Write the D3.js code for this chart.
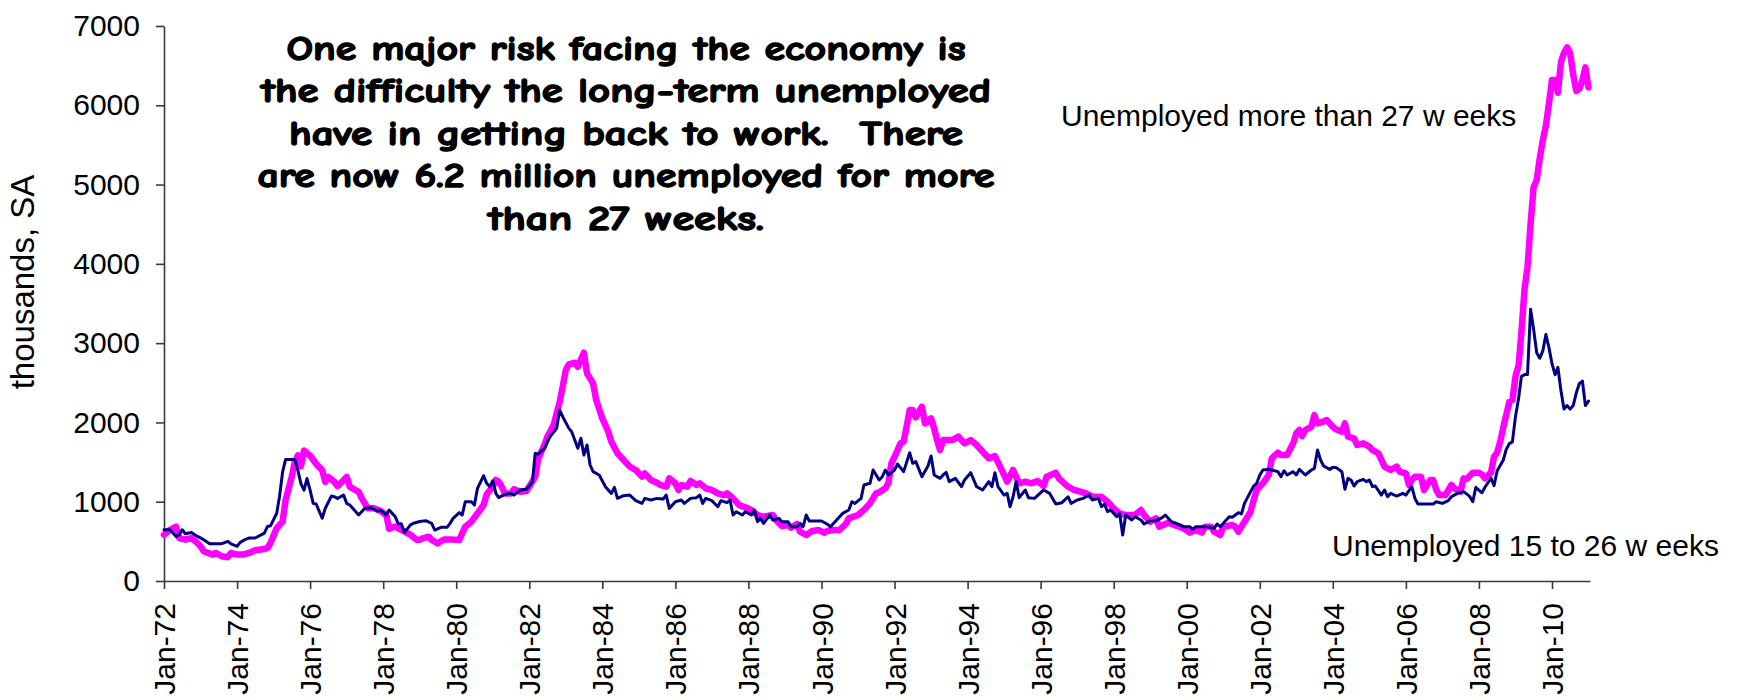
<!DOCTYPE html>
<html>
<head>
<meta charset="utf-8">
<script src="https://cdn.jsdelivr.net/npm/d3@7"></script>
<style>
  html, body { margin: 0; padding: 0; background: #ffffff; }
  svg { display: block; }
  text { font-family: "Liberation Sans", Arial, Helvetica, sans-serif; fill: #000; }
</style>
</head>
<body>
<svg id="chart" width="1739" height="700"></svg>
<script>
// Unemployed 15 to 26 weeks, thousands, seasonally adjusted
const midTermMonths = [
  "1972-01","1972-03","1972-05","1972-06","1972-07","1972-08","1972-10","1972-12",
  "1973-02","1973-04","1973-06","1973-08","1973-10","1973-11",
  "1974-01","1974-02","1974-04","1974-05","1974-07","1974-10","1974-11","1974-12",
  "1975-02","1975-03","1975-04","1975-05","1975-08","1975-09","1975-10","1975-11","1975-12",
  "1976-01","1976-02","1976-03","1976-05","1976-06","1976-08","1976-09","1976-10","1976-12",
  "1977-01","1977-02","1977-05","1977-07","1977-09","1977-11","1977-12",
  "1978-02","1978-03","1978-05","1978-06","1978-07","1978-08","1978-10","1978-11",
  "1979-01","1979-03","1979-05","1979-06","1979-08","1979-10","1979-11","1979-12",
  "1980-02","1980-03","1980-04","1980-06","1980-07","1980-08","1980-10","1980-11","1980-12",
  "1981-01","1981-02","1981-03","1981-05","1981-07","1981-08","1981-10","1981-12",
  "1982-01","1982-02","1982-03","1982-04","1982-06","1982-07","1982-08","1982-10","1982-11","1982-12",
  "1983-02","1983-03","1983-05","1983-06","1983-07","1983-08","1983-09","1983-10","1983-12",
  "1984-02","1984-04","1984-05","1984-06","1984-08","1984-10","1984-12",
  "1985-02","1985-03","1985-05","1985-07","1985-09","1985-10","1985-11",
  "1986-01","1986-03","1986-04","1986-06","1986-08","1986-09","1986-10","1986-11",
  "1987-01","1987-03","1987-04","1987-06","1987-07","1987-08","1987-09","1987-11","1987-12",
  "1988-02","1988-03","1988-04","1988-05","1988-06","1988-08","1988-09","1988-11","1988-12",
  "1989-02","1989-03","1989-05","1989-06","1989-07","1989-08","1989-09",
  "1990-01","1990-03","1990-04","1990-06","1990-08","1990-10","1990-11","1990-12",
  "1991-02","1991-03","1991-05","1991-06","1991-08","1991-09","1991-10","1991-11",
  "1992-01","1992-02","1992-04","1992-06","1992-07","1992-08","1992-10","1992-12",
  "1993-01","1993-02","1993-04","1993-05","1993-06","1993-07","1993-09","1993-11","1993-12",
  "1994-02","1994-04","1994-06","1994-08","1994-09","1994-10","1994-11",
  "1995-01","1995-02","1995-03","1995-04","1995-05","1995-06","1995-08","1995-09","1995-11",
  "1996-02","1996-04","1996-06","1996-08","1996-10","1996-11",
  "1997-01","1997-03","1997-05","1997-06","1997-08","1997-09","1997-10","1997-11","1997-12",
  "1998-02","1998-03","1998-04","1998-05","1998-07","1998-08","1998-10","1998-11",
  "1999-01","1999-03","1999-05","1999-06","1999-08","1999-10","1999-12",
  "2000-02","2000-03","2000-04","2000-06","2000-08","2000-10","2000-11","2000-12",
  "2001-01","2001-03","2001-04","2001-05","2001-06","2001-07","2001-08","2001-10","2001-11","2001-12",
  "2002-01","2002-02","2002-04","2002-07","2002-08","2002-09","2002-10","2002-12",
  "2003-01","2003-02","2003-04","2003-06","2003-07","2003-08","2003-09","2003-10","2003-12",
  "2004-01","2004-02","2004-04","2004-05","2004-06","2004-07","2004-08","2004-09","2004-11","2004-12",
  "2005-01","2005-02","2005-03","2005-05","2005-06","2005-07","2005-08","2005-10","2005-12",
  "2006-01","2006-03","2006-04","2006-05","2006-07","2006-10","2006-11",
  "2007-01","2007-03","2007-04","2007-06","2007-08","2007-10","2007-11","2007-12",
  "2008-02","2008-03","2008-05","2008-06","2008-07","2008-09","2008-10","2008-11","2008-12",
  "2009-01","2009-02","2009-03","2009-04","2009-05","2009-06","2009-07","2009-08","2009-09","2009-10","2009-11","2009-12",
  "2010-01","2010-02","2010-03","2010-04","2010-05","2010-06","2010-07","2010-08","2010-09","2010-10","2010-11","2010-12",
  "2011-01"
];
const midTermValues = [
  646,646,562,583,646,596,612,562,
  521,471,471,471,500,467,
  437,487,529,542,542,604,688,696,
  854,1062,1375,1533,1533,1396,1229,1146,1292,
  1146,979,971,792,917,1071,1062,1042,1083,
  979,958,833,917,925,883,896,
  833,896,812,721,721,612,708,729,
  750,761,727,643,677,677,727,790,
  862,832,1000,1000,958,1169,1328,1232,1190,
  1265,1105,1051,1093,1105,1084,1148,1156,
  1198,1253,1610,1602,1673,1757,1828,1925,2156,2072,
  1925,1883,1673,1799,1589,1715,1463,1379,1337,
  1190,1105,1181,1042,1076,1084,1013,
  979,1042,1021,1042,1034,1084,916,
  1000,1021,979,1042,1051,1084,979,1042,
  1013,937,1013,988,1021,832,874,832,874,
  832,895,748,790,727,832,769,790,748,
  748,685,685,727,685,832,757,
  757,715,685,769,853,895,1000,979,
  1042,1211,1232,1400,1274,1316,1400,1337,
  1400,1475,1379,1618,1484,1505,1316,1450,
  1576,1337,1295,1337,1370,1253,1295,1190,1274,
  1366,1190,1148,1253,1190,1366,1190,
  1084,1105,937,1063,1253,1051,1148,1051,1042,
  1148,1105,971,988,1063,979,
  1021,1042,1084,1021,1042,937,971,874,895,
  811,853,580,832,769,811,769,719,
  761,761,799,832,748,719,685,
  685,652,685,685,685,664,719,685,
  727,811,803,832,862,845,979,1127,1198,1232,
  1337,1400,1408,1379,1316,1391,1337,1379,
  1337,1408,1337,1400,1421,1652,1526,1450,1408,
  1433,1433,1379,1156,1295,1274,1198,1253,1282,1253,
  1274,1190,1198,1084,1148,1063,1105,1072,1105,
  1084,1190,1042,971,971,971,1000,
  979,1013,1063,1105,1127,1067,999,1182,
  1113,1182,1296,1204,1388,1526,1663,1733,1754,
  2076,2305,2580,2603,2603,3429,3177,2879,2810,2902,3108,2947,
  2741,2603,2695,2397,2168,2213,2168,2213,2374,2489,2522,2213,
  2269
];

// Unemployed more than 27 weeks, thousands, seasonally adjusted
const longTermMonths = [
  "1972-01","1972-03","1972-05","1972-06","1972-08","1972-10","1972-12",
  "1973-01","1973-02","1973-05","1973-06","1973-08","1973-10","1973-11",
  "1974-01","1974-03","1974-05","1974-07","1974-10","1974-11","1974-12",
  "1975-02","1975-04","1975-05","1975-07","1975-08","1975-09","1975-10","1975-11",
  "1976-01","1976-03","1976-05","1976-06","1976-07","1976-09","1976-10","1976-12",
  "1977-01","1977-02","1977-05","1977-06","1977-08","1977-10","1977-12",
  "1978-02","1978-03","1978-05","1978-07","1978-08","1978-10","1978-12",
  "1979-01","1979-02","1979-04","1979-05","1979-07","1979-09","1979-11",
  "1980-02","1980-03","1980-04","1980-06","1980-08","1980-10","1980-11",
  "1981-01","1981-02","1981-03","1981-04","1981-05","1981-07","1981-08","1981-10","1981-12",
  "1982-01","1982-03","1982-04","1982-06","1982-07","1982-09","1982-11","1982-12",
  "1983-01","1983-02","1983-04","1983-05","1983-07","1983-08","1983-10","1983-11",
  "1984-01","1984-03","1984-04","1984-06","1984-08","1984-10","1984-12",
  "1985-02","1985-03","1985-05","1985-07","1985-08","1985-10","1985-11",
  "1986-01","1986-02","1986-03","1986-05","1986-06","1986-08","1986-09","1986-11",
  "1987-01","1987-03","1987-05","1987-06","1987-08","1987-10","1987-12",
  "1988-02","1988-04","1988-06","1988-09","1988-10","1988-12",
  "1989-02","1989-03","1989-05","1989-06","1989-08","1989-10","1989-12",
  "1990-02","1990-03","1990-05","1990-07","1990-09","1990-10",
  "1991-01","1991-03","1991-05","1991-07","1991-08","1991-10","1991-11","1991-12",
  "1992-02","1992-03","1992-04","1992-05","1992-06","1992-07","1992-08","1992-10","1992-11",
  "1993-01","1993-02","1993-03","1993-04","1993-05","1993-08","1993-10","1993-12",
  "1994-02","1994-04","1994-07","1994-08","1994-10","1994-12",
  "1995-02","1995-04","1995-06","1995-08","1995-10","1995-12",
  "1996-02","1996-03","1996-06","1996-07","1996-10","1996-12",
  "1997-02","1997-04","1997-06","1997-09","1997-11",
  "1998-01","1998-03","1998-05","1998-08","1998-10","1998-11",
  "1999-01","1999-03","1999-04","1999-07","1999-09","1999-12",
  "2000-02","2000-04","2000-06","2000-07","2000-09","2000-10","2000-12",
  "2001-01","2001-04","2001-05","2001-06","2001-07","2001-09","2001-10","2001-11","2001-12",
  "2002-02","2002-04","2002-05","2002-07","2002-08","2002-10","2002-12",
  "2003-01","2003-02","2003-03","2003-04","2003-06","2003-07","2003-08","2003-09","2003-11",
  "2004-01","2004-02","2004-04","2004-05","2004-06","2004-08","2004-09","2004-11",
  "2005-01","2005-02","2005-04","2005-06","2005-08","2005-10","2005-11",
  "2006-01","2006-02","2006-03","2006-04","2006-06","2006-07","2006-09","2006-10","2006-11","2006-12",
  "2007-02","2007-04","2007-05","2007-07","2007-08","2007-09","2007-11",
  "2008-01","2008-02","2008-03","2008-05","2008-06","2008-07","2008-08","2008-09","2008-10","2008-11","2008-12",
  "2009-01","2009-02","2009-03","2009-04","2009-05","2009-06","2009-07","2009-08","2009-09","2009-10","2009-11","2009-12",
  "2010-01","2010-02","2010-03","2010-04","2010-05","2010-06","2010-07","2010-08","2010-09","2010-10","2010-11","2010-12",
  "2011-01"
];
const longTermValues = [
  583,646,687,542,521,542,479,
  437,375,333,354,312,300,354,
  333,333,354,387,404,417,479,
  667,750,1021,1312,1500,1583,1446,1646,
  1583,1479,1396,1250,1312,1250,1196,1271,
  1312,1187,1125,1042,917,917,887,
  833,658,687,646,625,583,521,
  521,538,559,517,475,525,525,
  517,601,685,748,853,958,1093,
  1190,1274,1253,1190,1105,1105,1156,1127,1135,
  1190,1316,1547,1715,1820,1967,2261,2451,
  2661,2732,2753,2703,2879,2619,2493,2282,
  2051,1883,1757,1610,1526,1442,1400,
  1316,1358,1274,1240,1211,1190,1295,
  1232,1148,1211,1190,1261,1211,1232,1169,
  1148,1105,1084,1105,1042,958,929,
  895,832,811,832,769,694,
  706,673,719,622,580,631,643,
  610,631,643,643,719,790,
  832,895,979,1105,1118,1169,1232,1484,
  1652,1736,1757,1946,2156,2156,2064,2198,1988,
  2051,1925,1778,1652,1778,1778,1820,1736,
  1778,1715,1589,1547,1576,1421,
  1253,1400,1232,1253,1232,1261,
  1198,1316,1366,1295,1190,1148,
  1127,1105,1063,1063,1000,
  916,853,832,832,895,832,
  748,790,685,736,706,664,
  610,643,610,685,685,622,580,
  685,706,685,622,685,811,874,1021,1148,
  1232,1337,1547,1618,1589,1589,1736,
  1862,1904,1828,1904,1946,2093,1988,1997,2030,
  1946,1913,1883,1988,1820,1799,1715,1736,
  1694,1652,1610,1442,1400,1442,1379,
  1358,1211,1274,1316,1316,1148,1274,1274,1148,1084,
  1084,1211,1169,1127,1295,1287,1366,
  1366,1343,1296,1366,1571,1618,1754,1938,2100,2260,2283,
  2580,2718,3131,3681,3956,4507,4965,5057,5332,5561,5744,6020,
  6318,6318,6158,6547,6662,6730,6662,6387,6180,6205,6318,6478,
  6226
];

const yTickValues = [0, 1000, 2000, 3000, 4000, 5000, 6000, 7000];
const yAxisTitle = "thousands, SA";
const longTermLabel = "Unemployed more than 27 w eeks";
const midTermLabel = "Unemployed 15 to 26 w eeks";
const noteLines = [
  "One major risk facing the economy is",
  "the difficulty the long-term unemployed",
  "have in getting back to work.  There",
  "are now 6.2 million unemployed for more",
  "than 27 weeks."
];

const W = 1739, H = 700;
const plot = { left: 164, right: 1590, top: 26, bottom: 581 };

const svg = d3.select("#chart");
svg.append("rect").attr("width", W).attr("height", H).attr("fill", "#fff");

const parseMonth = d3.timeParse("%Y-%m");
const toSeries = (months, values) => months.map((m, i) => ({ date: parseMonth(m), value: values[i] }));
const longTerm = toSeries(longTermMonths, longTermValues);
const midTerm = toSeries(midTermMonths, midTermValues);

const x = d3.scaleTime()
  .domain([new Date(1972, 0, 1), new Date(2011, 0, 16)])
  .range([plot.left, plot.right]);
const y = d3.scaleLinear()
  .domain([0, 7000])
  .range([plot.bottom, plot.top]);

const axisColor = "#3a3a3a";

// y axis
const yAxis = svg.append("g")
  .attr("transform", `translate(${plot.left},0)`)
  .call(d3.axisLeft(y).tickValues(yTickValues).tickFormat(d3.format("d"))
    .tickSize(8).tickSizeOuter(0).tickPadding(16));
yAxis.selectAll("path, line").attr("stroke", axisColor).attr("stroke-width", 1.6);
yAxis.selectAll("text")
  .attr("font-size", 30)
  .attr("font-family", "Liberation Sans, Arial, sans-serif")
  .attr("fill", "#000");

// x axis with rotated month labels every two years
const xAxis = svg.append("g")
  .attr("transform", `translate(0,${plot.bottom})`)
  .call(d3.axisBottom(x).ticks(d3.timeYear.every(2)).tickFormat(d3.timeFormat("%b-%y"))
    .tickSize(8).tickSizeOuter(0));
xAxis.selectAll("path, line").attr("stroke", axisColor).attr("stroke-width", 1.6);
xAxis.selectAll("text")
  .attr("font-size", 30)
  .attr("font-family", "Liberation Sans, Arial, sans-serif")
  .attr("fill", "#000")
  .attr("transform", "rotate(-90)")
  .attr("x", -22)
  .attr("y", 0)
  .attr("dy", "0.35em")
  .style("text-anchor", "end");

// axis title
svg.append("text")
  .attr("transform", "translate(34,282) rotate(-90)")
  .attr("text-anchor", "middle")
  .attr("font-size", 33)
  .text(yAxisTitle);

// series lines
const line = d3.line().x(d => x(d.date)).y(d => y(d.value));

svg.append("path")
  .datum(longTerm)
  .attr("d", line)
  .attr("fill", "none")
  .attr("stroke", "#ff00ff")
  .attr("stroke-width", 6.5)
  .attr("stroke-linejoin", "round")
  .attr("stroke-linecap", "round");

svg.append("path")
  .datum(midTerm)
  .attr("d", line)
  .attr("fill", "none")
  .attr("stroke", "#000080")
  .attr("stroke-width", 3)
  .attr("stroke-linejoin", "round")
  .attr("stroke-linecap", "round");

// series labels
svg.append("text")
  .attr("x", 1061).attr("y", 126)
  .attr("font-size", 30)
  .style("white-space", "pre")
  .text(longTermLabel);

svg.append("text")
  .attr("x", 1332).attr("y", 556)
  .attr("font-size", 30)
  .style("white-space", "pre")
  .text(midTermLabel);

// annotation block, heavy hand-lettered style
const noteWidths = [679, 730, 674, 737, 276];
const noteCenter = 626;
const noteBaseline = 59.5, noteStep = 42.6;
svg.append("g")
  .selectAll("text")
  .data(noteLines)
  .join("text")
  .attr("x", (d, i) => noteCenter - noteWidths[i] / 2)
  .attr("y", (d, i) => noteBaseline + i * noteStep)
  .attr("textLength", (d, i) => noteWidths[i])
  .attr("lengthAdjust", "spacingAndGlyphs")
  .attr("stroke", "#000")
  .attr("stroke-width", 1.4)
  .attr("stroke-linejoin", "round")
  .style("font-family", "'Comic Sans MS', 'Comic Neue', 'DejaVu Sans', sans-serif")
  .style("font-weight", "bold")
  .style("font-size", "34px")
  .style("white-space", "pre")
  .text(d => d);
</script>
</body>
</html>
